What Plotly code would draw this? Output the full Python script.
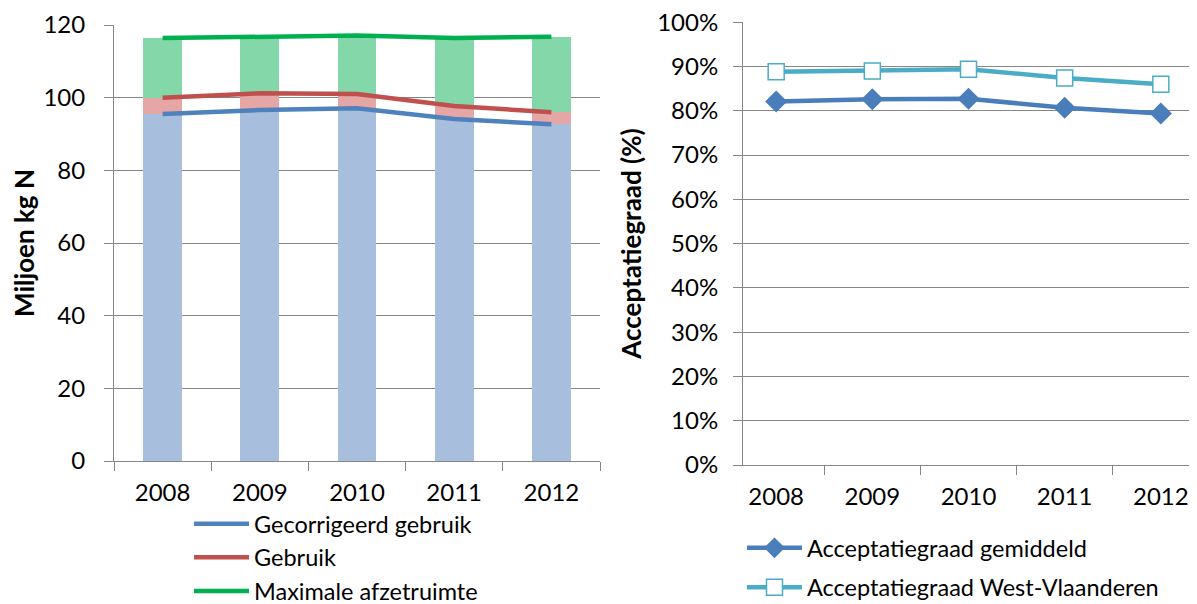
import plotly.graph_objects as go

years = ["2008", "2009", "2010", "2011", "2012"]
gecorrigeerd = [95.5, 96.6, 97.1, 94.1, 92.7]
gebruik = [100.0, 101.2, 101.0, 97.7, 96.0]
max_afzet = [116.4, 116.8, 117.1, 116.4, 116.8]

acc_gem = [0.821, 0.826, 0.827, 0.807, 0.794]
acc_wvl = [0.888, 0.890, 0.894, 0.874, 0.860]

left_ticks = [0, 20, 40, 60, 80, 100, 120]
right_ticks = [0.0, 0.1, 0.2, 0.3, 0.4, 0.5, 0.6, 0.7, 0.8, 0.9, 1.0]
right_tick_labels = ["0%", "10%", "20%", "30%", "40%", "50%", "60%", "70%", "80%", "90%", "100%"]

FONT = "Lato"
GRID = "#868686"

red_part = [g - c for g, c in zip(gebruik, gecorrigeerd)]
green_part = [m - g for m, g in zip(max_afzet, gebruik)]

fig = go.Figure()

# stacked bars (left)
fig.add_trace(go.Bar(x=years, y=gecorrigeerd, marker=dict(color="#A7BEDD", line=dict(width=0)),
                     showlegend=False, xaxis="x", yaxis="y", hoverinfo="skip"))
fig.add_trace(go.Bar(x=years, y=red_part, marker=dict(color="#E4A7A6", line=dict(width=0)),
                     showlegend=False, xaxis="x", yaxis="y", hoverinfo="skip"))
fig.add_trace(go.Bar(x=years, y=green_part, marker=dict(color="#84D7A8", line=dict(width=0)),
                     showlegend=False, xaxis="x", yaxis="y", hoverinfo="skip"))

# lines (left)
fig.add_trace(go.Scatter(x=years, y=gecorrigeerd, mode="lines", name="Gecorrigeerd gebruik",
                         line=dict(color="#4F81BD", width=4.5), xaxis="x", yaxis="y", legend="legend"))
fig.add_trace(go.Scatter(x=years, y=gebruik, mode="lines", name="Gebruik",
                         line=dict(color="#C0504D", width=4.5), xaxis="x", yaxis="y", legend="legend"))
fig.add_trace(go.Scatter(x=years, y=max_afzet, mode="lines", name="Maximale afzetruimte",
                         line=dict(color="#00B050", width=4.5), xaxis="x", yaxis="y", legend="legend"))

# right chart
fig.add_trace(go.Scatter(x=years, y=acc_gem, mode="lines+markers", name="Acceptatiegraad gemiddeld",
                         line=dict(color="#4A7EBB", width=4.5),
                         marker=dict(symbol="diamond", size=17, color="#4A7EBB"),
                         xaxis="x2", yaxis="y2", legend="legend2", legendgroup="a"))
fig.add_trace(go.Scatter(x=years, y=acc_wvl, mode="lines+markers", name="Acceptatiegraad West-Vlaanderen",
                         line=dict(color="#4BACC6", width=4.5),
                         marker=dict(symbol="square", size=16, color="white",
                                     line=dict(color="#4BACC6", width=1.5)),
                         xaxis="x2", yaxis="y2", legend="legend2", legendgroup="b"))

# page has an 8px body margin: figure coordinates = page coordinates - 8
OFF = 8
L, R, T, B = 114 - OFF, 3, 22 - OFF, 139
H = 443.0
W = 1080.0

axis_common = dict(showline=True, linecolor=GRID, linewidth=1, ticks="outside", ticklen=9,
                   tickcolor=GRID, tickfont=dict(family=FONT, size=24, color="black"))

fig.update_layout(
    width=1197 - OFF, height=604 - OFF,
    margin=dict(l=L, r=R, t=T, b=B, autoexpand=False),
    paper_bgcolor="white", plot_bgcolor="white",
    barmode="stack", bargap=0.6,
    font=dict(family=FONT, color="black"),
    xaxis=dict(domain=[0, 486 / W], type="category", tickson="boundaries", showgrid=False,
               ticklabelstandoff=10, anchor="y", **axis_common),
    yaxis=dict(domain=[4 / H, 440 / H], range=[0, 120], tickvals=left_ticks, showgrid=True,
               gridcolor=GRID, gridwidth=1, zeroline=False, anchor="x", ticklabelstandoff=14,
               ticklabeloverflow="allow",
               title=dict(text="<b>Miljoen kg N</b>", font=dict(family=FONT, size=26), standoff=10),
               **axis_common),
    xaxis2=dict(domain=[629 / W, 1.0], type="category", tickson="boundaries", showgrid=False,
                ticklabelstandoff=10, anchor="y2", **axis_common),
    yaxis2=dict(domain=[0, 1], range=[0, 1.0005], tickvals=right_ticks, ticktext=right_tick_labels,
                showgrid=True, gridcolor=GRID, gridwidth=1, zeroline=False, anchor="x2",
                ticklabelstandoff=10, ticklabeloverflow="allow",
                title=dict(text="<b>Acceptatiegraad (%)</b>", font=dict(family=FONT, size=26), standoff=8),
                **axis_common),
    legend=dict(x=(189 - 114) / W, y=(465 - 502) / H, xanchor="left", yanchor="top",
                font=dict(family=FONT, size=23.5), bgcolor="rgba(0,0,0,0)", tracegroupgap=0,
                traceorder="normal", itemwidth=55),
    legend2=dict(x=(742 - 114) / W, y=(465 - 526) / H, xanchor="left", yanchor="top",
                 font=dict(family=FONT, size=23.5), bgcolor="rgba(0,0,0,0)", tracegroupgap=6,
                 traceorder="grouped", itemwidth=55),
)

fig.write_html("out.html")
